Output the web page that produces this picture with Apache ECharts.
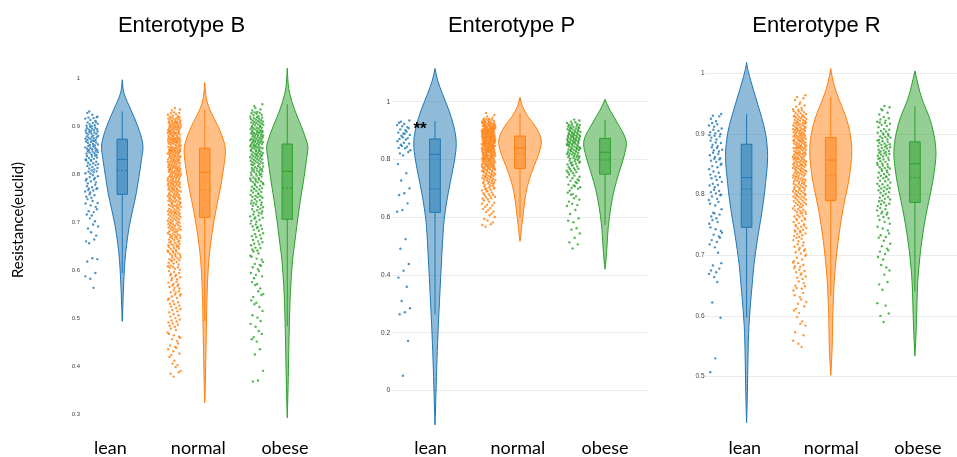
<!DOCTYPE html>
<html><head><meta charset="utf-8">
<script src="https://cdn.jsdelivr.net/npm/echarts@6/dist/echarts.min.js"></script>
<style>html,body{margin:0;padding:0;background:#fff}#c{width:957px;height:457px}</style>
</head><body><div id="c"></div>
<script>
// ---------------- DATA ----------------
const categories = ['lean', 'normal', 'obese'];
const panelTitles = ['Enterotype B', 'Enterotype P', 'Enterotype R'];
const yAxisTitle = 'Resistance(euclid)';
const annotationText = '**';
const annotation = [0, 0.905]; // category index, value (Enterotype P, lean)

// individual points, written compactly: "BB:ddd" = values 0.BBd for each digit d
const B_lean_pts = decode("93:1 92:048 91:136789 90:01245789 89:012345679 88:013456789 87:0123456789 86:012356789 85:012345689 84:013456789 83:01245789 82:0134689 81:023579 80:124568 79:02468 78:13579 77:01358 76:24679 75:1368 74:048 73:259 72:137 71:46 70:28 69:15 68:7 67:29 66:04 65:6 62:35 61:8 59:4 58:27 56:3");
const B_normal_pts = decode("93:358 92:01245789 91:001234566789 90:01123445677899 89:012233456778899 88:001234456677889 87:011223345566789 86:012234556778899 85:001123345667889 84:012234456678899 83:01123455677889 82:00123445667899 81:01223345567889 80:01123445677899 79:0123345567889 78:0122344567789 77:0112345667899 76:012344567889 75:011234566789 74:012334567899 73:01234556789 72:01123456789 71:01234567889 70:0123456789 69:0123456789 68:0123456789 67:012345679 66:013456789 65:012345789 64:01245689 63:02345789 62:01235679 61:024579 60:135678 59:02468 58:13579 57:01469 56:23578 55:03468 54:12579 53:0358 52:1469 51:2479 50:0368 49:1357 48:2469 47:058 46:147 45:269 44:037 43:158 42:36 41:19 40:25 39:08 38:47 37:8");
const B_obese_pts = decode("94:26 93:0358 92:01346789 91:0123456789 90:01234567899 89:001234567789 88:0123345667889 87:0112344567899 86:0122345677889 85:012345567889 84:011234567899 83:01234567889 82:0123456789 81:012345679 80:013456789 79:01235789 78:02345679 77:0134679 76:0235689 75:1234578 74:013568 73:124679 72:023578 71:02468 70:13579 69:01357 68:2468 67:1357 66:0369 65:2458 64:1367 63:059 62:248 61:137 60:269 59:048 58:37 57:15 56:29 55:06 54:48 53:27 52:39 51:5 50:16 49:4 48:28 47:3 46:07 45:16 43:5 42:4 39:0 37:0 36:8");
const P_lean_pts = decode("93:15 92:37 91:259 90:148 89:036 88:258 87:147 86:39 85:158 84:047 83:29 82:16 81:4 78:4 75:2 72:7 70:0 68:3 67:7 64:8 62:5 61:9 52:4 49:1 43:8 41:5 39:1 35:9 31:0 28:5 27:1 26:4 17:2 05:1");
const P_normal_pts = decode("96:1 95:4 94:0259 93:01345789 92:01234567899 91:0123445678899 90:01123456677899 89:011234456778899 88:001233456678899 87:012234556778899 86:011233455678899 85:001234456677889 84:01123445677899 83:01223455678899 82:0123345567899 81:012334567789 80:011234566789 79:01234567789 78:0123456789 77:0123456789 76:013456789 75:01245789 74:01345679 73:0235689 72:024679 71:135789 70:02468 69:13579 68:0369 67:1478 66:2569 65:048 64:137 63:26 62:059 61:38 60:17 59:4 58:29 57:36 56:7");
const P_obese_pts = decode("93:158 92:02469 91:0134679 90:01245789 89:01345689 88:012345789 87:012356789 86:013456789 85:012346789 84:01245689 83:02345789 82:0134679 81:024579 80:135689 79:02468 78:13579 77:0369 76:1478 75:2569 74:048 73:159 72:267 71:038 70:147 69:29 68:05 67:38 66:16 65:4 64:27 63:9 62:5 61:1 59:6 58:38 56:2 55:7 54:4 52:9 51:3 50:6 49:2");
const R_lean_pts = decode("93:03 92:159 91:2468 90:013579 89:14678 88:02569 87:13478 86:02579 85:14689 84:2579 83:0368 82:1479 81:2568 80:02468 79:1379 78:258 77:06 76:1479 75:258 74:036 73:147 72:259 71:38 70:4 68:37 67:258 66:49 65:6 62:2 59:7 53:0 50:7");
const R_normal_pts = decode("96:14 95:269 94:013579 93:0123456789 92:0123345678899 91:011234456778899 90:0112334556778899 89:0012234456677889 88:0112334556778999 87:0012344566778899 86:0112234556778899 85:0012334456678899 84:012234456778899 83:01123445677899 82:0123345567889 81:012234567889 80:011234566789 79:01234567789 78:0123456789 77:012345679 76:01345689 75:0135789 74:01245789 73:0235689 72:13579 71:02468 70:13579 69:0369 68:12478 67:02469 66:1358 65:047 64:2569 63:148 62:037 61:26 60:59 59:18 58:47 57:3 56:8 55:49 54:9");
const R_obese_pts = decode("94:146 93:259 92:02468 91:135789 90:0124578 89:01345679 88:012345789 87:012346789 86:013456789 85:01245789 84:02345689 83:0134679 82:0235789 81:0124578 80:134679 79:023568 78:124579 77:02468 76:13579 75:258 74:147 73:036 72:49 71:159 70:268 69:37 68:04 67:5 66:8 65:26 64:3 62:1 61:7 60:04 59:0");

// violin density profiles: [value, relative density]
const B_lean_violin = [[0.997,0],[0.969,0.085],[0.934,0.42],[0.899,0.76],[0.861,1],[0.83,0.93],[0.795,0.81],[0.76,0.68],[0.726,0.51],[0.691,0.34],[0.656,0.22],[0.622,0.136],[0.587,0.085],[0.552,0.05],[0.52,0.025],[0.493,0]];
const B_normal_violin = [[0.991,0],[0.96,0.07],[0.934,0.25],[0.899,0.66],[0.865,0.95],[0.844,1],[0.809,0.9],[0.774,0.77],[0.74,0.61],[0.705,0.46],[0.67,0.33],[0.622,0.2],[0.552,0.115],[0.483,0.082],[0.413,0.05],[0.36,0.025],[0.323,0]];
const B_obese_violin = [[1.021,0],[0.99,0.04],[0.969,0.115],[0.934,0.36],[0.899,0.69],[0.865,0.97],[0.854,1],[0.83,0.93],[0.795,0.82],[0.76,0.69],[0.726,0.57],[0.691,0.46],[0.656,0.36],[0.622,0.26],[0.587,0.2],[0.552,0.15],[0.483,0.1],[0.413,0.066],[0.344,0.033],[0.292,0]];
const P_lean_violin = [[1.115,0],[1.075,0.12],[1.029,0.34],[0.971,0.65],[0.913,0.89],[0.856,1],[0.798,0.92],[0.74,0.77],[0.683,0.62],[0.625,0.49],[0.567,0.4],[0.452,0.31],[0.337,0.23],[0.221,0.154],[0.106,0.092],[-0.009,0.046],[-0.119,0]];
const P_normal_violin = [[1.015,0],[0.983,0.12],[0.948,0.38],[0.913,0.74],[0.867,1],[0.821,0.89],[0.775,0.65],[0.729,0.43],[0.683,0.28],[0.625,0.17],[0.567,0.08],[0.516,0]];
const P_obese_violin = [[1.008,0],[0.971,0.23],[0.913,0.69],[0.862,1],[0.81,0.89],[0.752,0.65],[0.694,0.43],[0.637,0.28],[0.567,0.154],[0.498,0.092],[0.452,0.046],[0.42,0]];
const R_lean_violin = [[1.018,0],[1.006,0.06],[0.984,0.23],[0.956,0.47],[0.929,0.7],[0.901,0.9],[0.863,1],[0.818,0.9],[0.791,0.81],[0.763,0.69],[0.736,0.56],[0.708,0.44],[0.681,0.34],[0.653,0.27],[0.626,0.2],[0.598,0.14],[0.571,0.094],[0.516,0.06],[0.461,0.03],[0.424,0]];
const R_normal_violin = [[1.008,0],[0.984,0.13],[0.956,0.4],[0.929,0.71],[0.901,0.92],[0.873,1],[0.846,0.95],[0.818,0.83],[0.791,0.67],[0.763,0.52],[0.736,0.4],[0.708,0.3],[0.681,0.22],[0.653,0.16],[0.598,0.095],[0.543,0.063],[0.502,0]];
const R_obese_violin = [[1.004,0],[0.984,0.13],[0.956,0.35],[0.929,0.67],[0.901,0.89],[0.871,1],[0.846,0.95],[0.818,0.83],[0.791,0.67],[0.763,0.51],[0.736,0.38],[0.708,0.27],[0.681,0.19],[0.653,0.13],[0.598,0.08],[0.554,0.032],[0.534,0]];

// box stats: [lower whisker, q1, median, q3, upper whisker, mean]
const B_lean_box = [0.594, 0.758, 0.831, 0.873, 0.931, 0.808];
const B_normal_box = [0.494, 0.710, 0.804, 0.854, 0.934, 0.767];
const B_obese_box = [0.483, 0.706, 0.806, 0.863, 0.946, 0.771];
const P_lean_box = [0.264, 0.617, 0.818, 0.871, 0.933, 0.698];
const P_normal_box = [0.600, 0.769, 0.839, 0.881, 0.960, 0.819];
const P_obese_box = [0.573, 0.749, 0.825, 0.873, 0.937, 0.798];
const R_lean_box = [0.597, 0.746, 0.828, 0.883, 0.933, 0.809];
const R_normal_box = [0.634, 0.790, 0.857, 0.894, 0.961, 0.832];
const R_obese_box = [0.640, 0.787, 0.851, 0.887, 0.946, 0.828];

function decode(s) {
  const out = [];
  s.trim().split(/\s+/).forEach(tok => {
    const parts = tok.split(':');
    const base = parseInt(parts[0], 10);
    for (const ch of parts[1]) out.push((base * 10 + Number(ch)) / 1000);
  });
  return out;
}

// ---------------- LAYOUT / STYLE ----------------
const colors = ['#1f77b4', '#ff7f0e', '#2ca02c'];
const fills = ['rgba(31,119,180,0.5)', 'rgba(255,127,14,0.5)', 'rgba(44,160,44,0.5)'];
const panels = [
  { pts: [B_lean_pts, B_normal_pts, B_obese_pts], vio: [B_lean_violin, B_normal_violin, B_obese_violin], box: [B_lean_box, B_normal_box, B_obese_box],
    grid: { left: 81, top: 78.3, width: 247.5, height: 336 }, min: 0.3, max: 1, interval: 0.1, split: false, hideMin: false,
    tickSize: 6, tickMargin: 1, xMargin: 25, shift: [-11.8, -6.5, -2.3], titleX: 181.5 },
  { pts: [P_lean_pts, P_normal_pts, P_obese_pts], vio: [P_lean_violin, P_normal_violin, P_obese_violin], box: [P_lean_box, P_normal_box, P_obese_box],
    grid: { left: 392.5, top: 101.7, width: 255, height: 289 }, min: 0, max: 1, interval: 0.2, split: true, hideMin: false,
    tickSize: 7, tickMargin: 2, xMargin: 48.5, shift: [-4.5, -2.2, 0], titleX: 511.5 },
  { pts: [R_lean_pts, R_normal_pts, R_obese_pts], vio: [R_lean_violin, R_normal_violin, R_obese_violin], box: [R_lean_box, R_normal_box, R_obese_box],
    grid: { left: 704.5, top: 73.3, width: 255, height: 364.2 }, min: 0.4, max: 1, interval: 0.1, split: true, hideMin: true,
    tickSize: 6.5, tickMargin: 0, xMargin: 1.8, shift: [-1.8, 0.5, 3], titleX: 816.5 }
];
const VIOLIN_HALF = 0.25, BOX_HALF = 0.063, PTS_OFFSET = -0.37, PTS_SPREAD = 0.16, DOT_R = 1.2;

const grids = [], xAxes = [], yAxes = [], series = [], titles = [];
panels.forEach((p, gi) => {
  grids.push(Object.assign({ containLabel: false }, p.grid));
  titles.push({ text: panelTitles[gi], left: p.titleX, top: 15, padding: 0, textAlign: 'center',
    textStyle: { fontFamily: 'Liberation Sans', fontSize: 22, fontWeight: 'normal', color: '#000' } });
  const rich = {};
  p.shift.forEach((s, i) => {
    rich['s' + i] = { fontFamily: 'Lato', fontSize: 18, color: '#000',
      padding: [0, s < 0 ? -2 * s : 0, 0, s > 0 ? 2 * s : 0] };
  });
  xAxes.push({ type: 'category', gridIndex: gi, data: categories, boundaryGap: true,
    axisLine: { show: false }, axisTick: { show: false }, splitLine: { show: false },
    axisLabel: { margin: p.xMargin, interval: 0, formatter: (v, i) => '{s' + i + '|' + v + '}', rich: rich } });
  yAxes.push({ type: 'value', gridIndex: gi, min: p.min, max: p.max, interval: p.interval,
    axisLine: { show: false }, axisTick: { show: false },
    axisLabel: { fontSize: p.tickSize, color: '#444', fontFamily: 'Liberation Sans', margin: p.tickMargin, showMinLabel: !p.hideMin },
    splitLine: { show: p.split, showMinLine: !p.hideMin, lineStyle: { color: '#ebebeb', width: 1 } } });

  // violins
  series.push({ type: 'custom', xAxisIndex: gi, yAxisIndex: gi, clip: false, silent: true, z: 2,
    data: categories.map((c, i) => [i, p.box[i][2]]),
    renderItem: (params, api) => {
      const i = params.dataIndex;
      const band = api.size([1, 0])[0];
      const prof = p.vio[i];
      const right = [], left = [];
      prof.forEach(d => {
        const c = api.coord([i, d[0]]);
        right.push([c[0] + d[1] * VIOLIN_HALF * band, c[1]]);
        left.push([c[0] - d[1] * VIOLIN_HALF * band, c[1]]);
      });
      const pts = right.concat(left.reverse());
      return { type: 'polygon', shape: { points: pts, smooth: 0.35 },
        style: { fill: fills[i], stroke: colors[i], lineWidth: 1 } };
    } });

  // boxes
  series.push({ type: 'custom', xAxisIndex: gi, yAxisIndex: gi, clip: false, silent: true, z: 3,
    data: categories.map((c, i) => [i, p.box[i][2]]),
    renderItem: (params, api) => {
      const i = params.dataIndex;
      const b = p.box[i];
      const band = api.size([1, 0])[0];
      const hw = BOX_HALF * band;
      const cx = api.coord([i, b[2]])[0];
      const y = b.map(v => api.coord([i, v])[1]);
      const col = colors[i];
      return { type: 'group', children: [
        { type: 'line', shape: { x1: cx, y1: y[0], x2: cx, y2: y[1] }, style: { stroke: col, lineWidth: 1 } },
        { type: 'line', shape: { x1: cx, y1: y[3], x2: cx, y2: y[4] }, style: { stroke: col, lineWidth: 1 } },
        { type: 'rect', shape: { x: cx - hw, y: y[3], width: 2 * hw, height: y[1] - y[3] }, style: { fill: fills[i], stroke: col, lineWidth: 1 } },
        { type: 'line', shape: { x1: cx - hw, y1: y[2], x2: cx + hw, y2: y[2] }, style: { stroke: col, lineWidth: 1 } },
        { type: 'line', shape: { x1: cx - hw, y1: y[5], x2: cx + hw, y2: y[5] }, style: { stroke: col, lineWidth: 1, lineDash: [2, 2] } }
      ] };
    } });

  // jittered points
  const flat = [];
  p.pts.forEach((arr, i) => arr.forEach((v, k) => flat.push({ cat: i, v: v, k: k })));
  series.push({ type: 'custom', xAxisIndex: gi, yAxisIndex: gi, clip: false, silent: true, z: 4,
    data: flat.map(o => [o.cat, o.v]),
    renderItem: (params, api) => {
      const o = flat[params.dataIndex];
      const band = api.size([1, 0])[0];
      const c = api.coord([o.cat, o.v]);
      const j = ((o.k * 0.6180339887 + 0.31) % 1) - 0.5;
      return { type: 'circle', shape: { cx: c[0] + (PTS_OFFSET + j * PTS_SPREAD) * band, cy: c[1], r: DOT_R },
        style: { fill: colors[o.cat], opacity: 0.8 } };
    } });
});

// significance annotation on Enterotype P
series.push({ type: 'custom', xAxisIndex: 1, yAxisIndex: 1, clip: false, silent: true, z: 6,
  data: [annotation],
  renderItem: (params, api) => {
    const band = api.size([1, 0])[0];
    const c = api.coord([annotation[0], annotation[1]]);
    return { type: 'text', x: c[0] - 0.176 * band, y: c[1],
      style: { text: annotationText, fontFamily: 'Liberation Sans', fontSize: 17, fontWeight: 'bold', fill: '#000', align: 'center', verticalAlign: 'middle' } };
  } });

const chart = echarts.init(document.getElementById('c'), null, { renderer: 'canvas' });
chart.setOption({
  animation: false,
  backgroundColor: '#fff',
  title: titles,
  grid: grids, xAxis: xAxes, yAxis: yAxes, series: series,
  graphic: [{ type: 'text', x: 18, y: 220, rotation: Math.PI / 2,
    style: { text: yAxisTitle, fontFamily: 'Lato', fontSize: 15, fill: '#000', align: 'center', verticalAlign: 'middle' } }]
});
</script></body></html>
